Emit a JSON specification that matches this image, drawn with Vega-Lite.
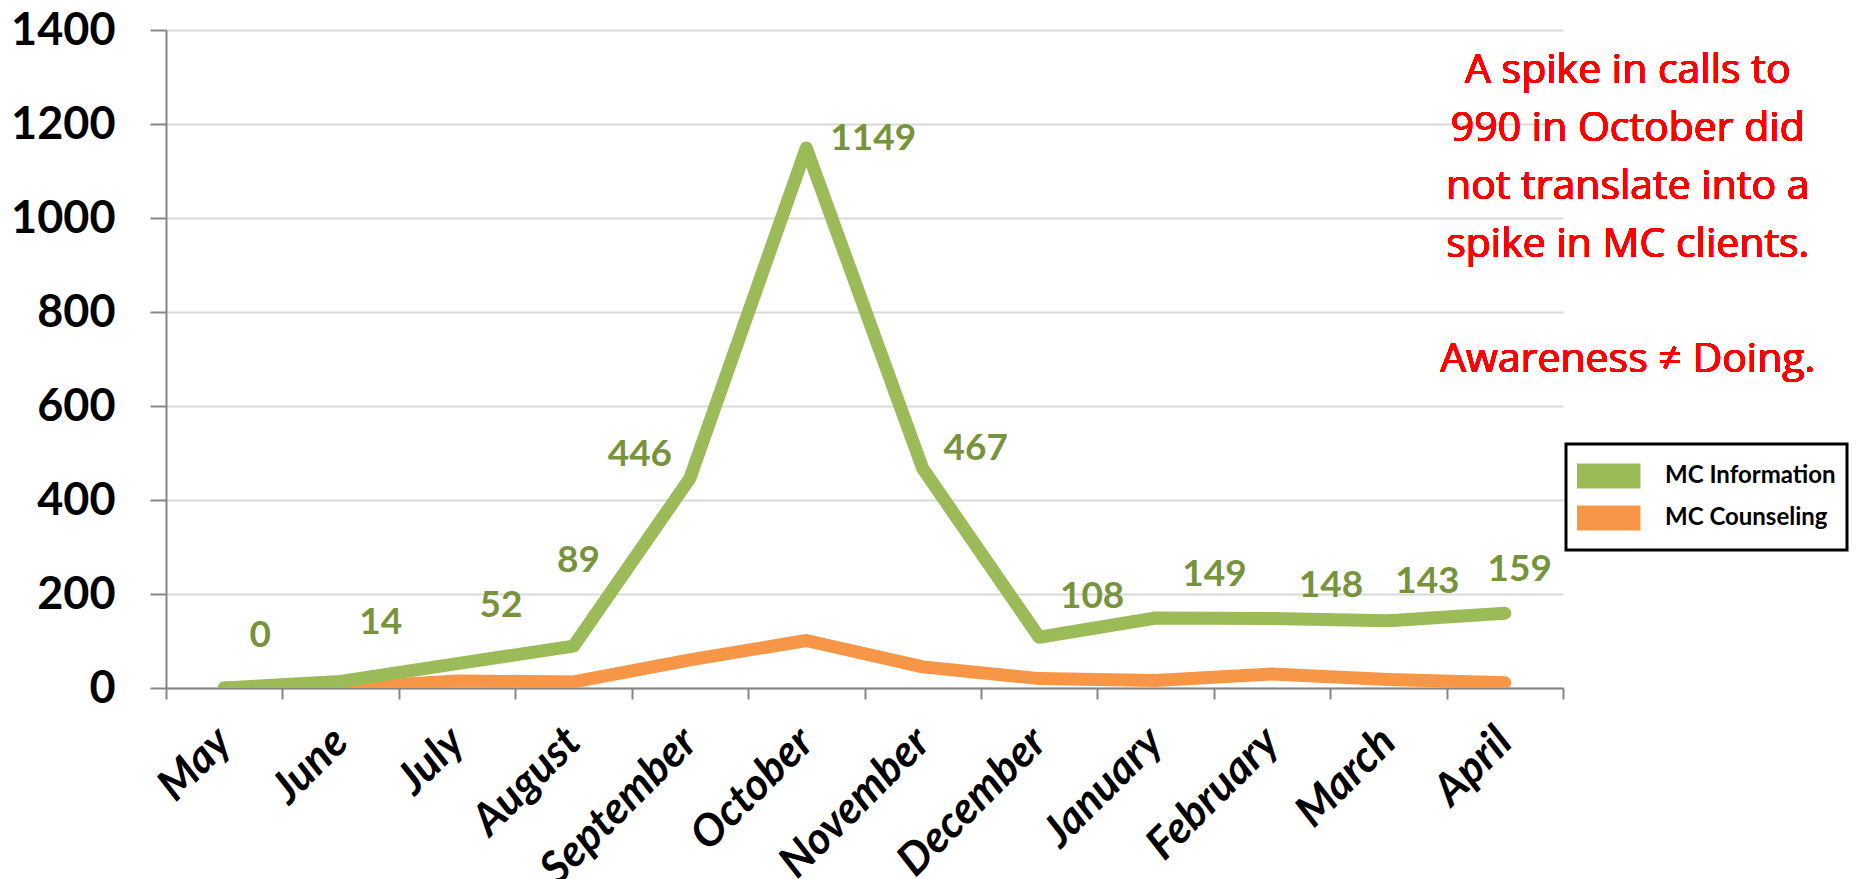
{
  "$schema": "https://vega.github.io/schema/vega-lite/v6.json",
  "width": 1397,
  "height": 658,
  "autosize": {"type": "none"},
  "padding": {"left": 166, "top": 30, "right": 302, "bottom": 191},
  "background": "white",
  "data": {
    "values": [
      {"month": "May", "series": "MC Information", "calls": 0},
      {"month": "June", "series": "MC Information", "calls": 14},
      {"month": "July", "series": "MC Information", "calls": 52},
      {"month": "August", "series": "MC Information", "calls": 89},
      {"month": "September", "series": "MC Information", "calls": 446},
      {"month": "October", "series": "MC Information", "calls": 1149},
      {"month": "November", "series": "MC Information", "calls": 467},
      {"month": "December", "series": "MC Information", "calls": 108},
      {"month": "January", "series": "MC Information", "calls": 149},
      {"month": "February", "series": "MC Information", "calls": 148},
      {"month": "March", "series": "MC Information", "calls": 143},
      {"month": "April", "series": "MC Information", "calls": 159},
      {"month": "May", "series": "MC Counseling", "calls": 0},
      {"month": "June", "series": "MC Counseling", "calls": 0},
      {"month": "July", "series": "MC Counseling", "calls": 15},
      {"month": "August", "series": "MC Counseling", "calls": 13},
      {"month": "September", "series": "MC Counseling", "calls": 60},
      {"month": "October", "series": "MC Counseling", "calls": 101},
      {"month": "November", "series": "MC Counseling", "calls": 45},
      {"month": "December", "series": "MC Counseling", "calls": 20},
      {"month": "January", "series": "MC Counseling", "calls": 16},
      {"month": "February", "series": "MC Counseling", "calls": 30},
      {"month": "March", "series": "MC Counseling", "calls": 18},
      {"month": "April", "series": "MC Counseling", "calls": 11}
    ]
  },
  "encoding": {
    "x": {
      "field": "month",
      "type": "ordinal",
      "bandPosition": 0.5,
      "scale": {
        "type": "band",
        "domain": ["May", "June", "July", "August", "September", "October", "November", "December", "January", "February", "March", "April"],
        "paddingInner": 0,
        "paddingOuter": 0
      },
      "axis": {
        "title": null,
        "tickBand": "extent",
        "domainColor": "#868686",
        "domainWidth": 2,
        "tickColor": "#868686",
        "tickWidth": 2,
        "tickSize": 11,
        "labelAngle": -45,
        "labelAlign": "right",
        "labelBaseline": "middle",
        "labelPadding": 36,
        "labelDx": 2,
        "labelLimit": 0,
        "labelFont": "Lato",
        "labelFontSize": 44,
        "labelFontWeight": "bold",
        "labelFontStyle": "italic",
        "labelColor": "black",
        "labelOverlap": false,
        "grid": false
      }
    },
    "y": {
      "field": "calls",
      "type": "quantitative",
      "scale": {"domain": [0, 1400]},
      "axis": {
        "title": null,
        "values": [0, 200, 400, 600, 800, 1000, 1200, 1400],
        "format": "d",
        "domainColor": "#868686",
        "domainWidth": 2,
        "tickColor": "#868686",
        "tickWidth": 2,
        "tickSize": 16,
        "labelPadding": 35,
        "labelFont": "Lato",
        "labelFontSize": 45,
        "labelFontWeight": "bold",
        "labelColor": "black",
        "grid": true,
        "gridColor": "#D9D9D9",
        "gridWidth": 2
      }
    }
  },
  "layer": [
    {
      "transform": [{"filter": "datum.series == 'MC Counseling'"}],
      "mark": {"type": "line", "strokeWidth": 13, "strokeCap": "round", "strokeJoin": "round", "clip": true},
      "encoding": {
        "color": {
          "field": "series",
          "type": "nominal",
          "scale": {"domain": ["MC Information", "MC Counseling"], "range": ["#9BBB59", "#F79646"]},
          "legend": {
            "title": null,
            "orient": "none",
            "legendX": 1400,
            "legendY": 414,
            "padding": 11,
            "strokeColor": "black",
            "symbolType": "M-3,0H3",
            "symbolSize": 484,
            "symbolStrokeWidth": 25,
            "symbolOpacity": 1,
            "symbolOffset": 7,
            "clipHeight": 42,
            "labelFont": "Lato",
            "labelFontSize": 24,
            "labelFontWeight": "bold",
            "labelColor": "black",
            "labelLimit": 0,
            "labelOffset": 34,
            "rowPadding": 0
          }
        }
      }
    },
    {
      "transform": [{"filter": "datum.series == 'MC Information'"}],
      "mark": {"type": "line", "strokeWidth": 13, "strokeCap": "round", "strokeJoin": "round", "clip": true},
      "encoding": {"color": {"field": "series", "type": "nominal"}}
    },
    {
      "transform": [{"filter": "datum.series == 'MC Information'"}],
      "encoding": {"text": {"field": "calls", "type": "quantitative"}},
      "layer": [
        {"transform": [{"filter": "datum.month == 'May'"}], "mark": {"type": "text", "dx": 36, "dy": -52}},
        {"transform": [{"filter": "datum.month == 'June'"}], "mark": {"type": "text", "dx": 40, "dy": -58}},
        {"transform": [{"filter": "datum.month == 'July'"}], "mark": {"type": "text", "dx": 44, "dy": -58}},
        {"transform": [{"filter": "datum.month == 'August'"}], "mark": {"type": "text", "dx": 5, "dy": -85}},
        {"transform": [{"filter": "datum.month == 'September'"}], "mark": {"type": "text", "dx": -50, "dy": -23}},
        {"transform": [{"filter": "datum.month == 'October'"}], "mark": {"type": "text", "dx": 67, "dy": -9}},
        {"transform": [{"filter": "datum.month == 'November'"}], "mark": {"type": "text", "dx": 53, "dy": -20}},
        {"transform": [{"filter": "datum.month == 'December'"}], "mark": {"type": "text", "dx": 53, "dy": -40}},
        {"transform": [{"filter": "datum.month == 'January'"}], "mark": {"type": "text", "dx": 59, "dy": -43}},
        {"transform": [{"filter": "datum.month == 'February'"}], "mark": {"type": "text", "dx": 59, "dy": -32}},
        {"transform": [{"filter": "datum.month == 'March'"}], "mark": {"type": "text", "dx": 39, "dy": -39}},
        {"transform": [{"filter": "datum.month == 'April'"}], "mark": {"type": "text", "dx": 15, "dy": -43}}
      ]
    },
    {
      "mark": {
        "type": "text",
        "text": ["A spike in calls to", "990 in October did", "not translate into a", "spike in MC clients."],
        "font": "Open Sans",
        "fontSize": 41,
        "fontWeight": "normal",
        "color": "#FF0000",
        "align": "center",
        "baseline": "alphabetic",
        "lineHeight": 58,
        "dx": 123
      },
      "encoding": {
        "x": {"datum": "April", "type": "ordinal", "bandPosition": 0.5},
        "y": {"datum": 1287, "type": "quantitative"}
      }
    },
    {
      "mark": {
        "type": "text",
        "text": "Awareness ≠ Doing.",
        "font": "Open Sans",
        "fontSize": 41,
        "fontWeight": "normal",
        "color": "#FF0000",
        "align": "center",
        "baseline": "alphabetic",
        "dx": 123
      },
      "encoding": {
        "x": {"datum": "April", "type": "ordinal", "bandPosition": 0.5},
        "y": {"datum": 672, "type": "quantitative"}
      }
    }
  ],
  "config": {
    "view": {"stroke": null},
    "text": {"font": "Lato", "fontSize": 37, "fontWeight": "bold", "color": "#77933C"},
    "legend": {"strokeWidth": 3}
  }
}
